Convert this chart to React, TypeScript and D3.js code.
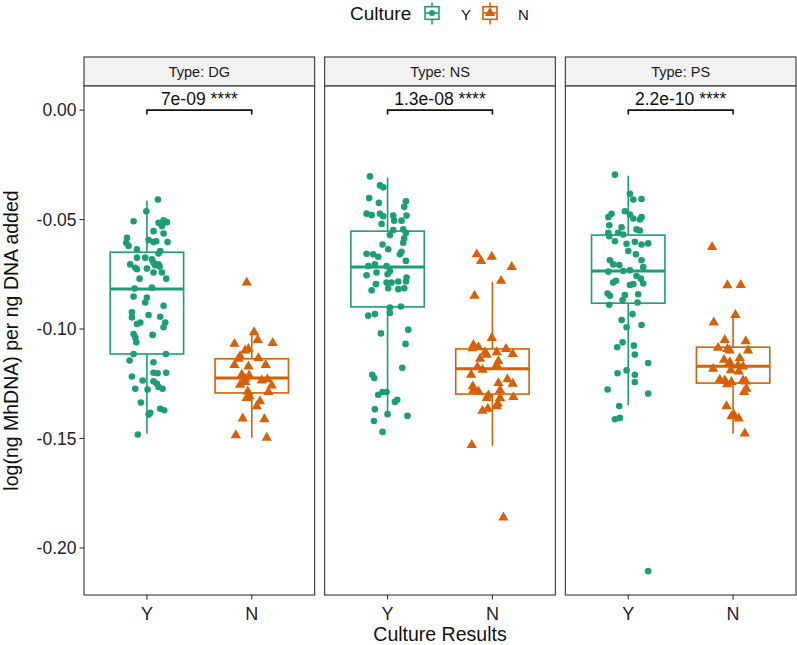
import React, { useEffect, useRef } from "react";
import * as d3 from "d3";

const types = ["DG", "NS", "PS"];
const cultures = ["Y", "N"];
const pLabels = ["7e-09 ****", "1.3e-08 ****", "2.2e-10 ****"];
const bracketValue = 0;
const yTicks = [0, -0.05, -0.1, -0.15, -0.2];
const yDomain = [-0.2215, 0.011];

// [low whisker, Q1, median, Q3, high whisker]
const dgYBox = [-0.1479, -0.1114, -0.0817, -0.0649, -0.0414];
const dgNBox = [-0.1497, -0.1292, -0.1224, -0.1136, -0.1008];
const nsYBox = [-0.1389, -0.0899, -0.0717, -0.0553, -0.0308];
const nsNBox = [-0.1533, -0.1297, -0.1182, -0.1091, -0.0785];
const psYBox = [-0.1348, -0.0882, -0.0735, -0.0571, -0.03];
const psNBox = [-0.1477, -0.1247, -0.117, -0.1083, -0.0939];

// [jitter (category units), value]
const dgY = [
  [0.105, -0.0409], [-0.006, -0.0462], [-0.127, -0.0508], [0.111, -0.0515],
  [0.159, -0.0503], [0.19, -0.0512], [0.143, -0.053], [0.063, -0.0553],
  [0.159, -0.0564], [-0.19, -0.0583], [-0.197, -0.0606], [-0.175, -0.0621],
  [0.016, -0.0594], [0.063, -0.0603], [0.089, -0.0599], [0.197, -0.0603],
  [-0.095, -0.0636], [0.127, -0.0644], [0.111, -0.0655], [-0.095, -0.0674],
  [-0.016, -0.0674], [0.048, -0.0682], [0.063, -0.0697], [-0.159, -0.0705],
  [-0.111, -0.072], [-0.095, -0.0727], [0.0, -0.0724], [0.079, -0.0709],
  [0.111, -0.0705], [0.121, -0.0715], [0.063, -0.0742], [0.143, -0.0742],
  [-0.07, -0.077], [0.184, -0.077], [-0.117, -0.0815], [0.048, -0.0811],
  [-0.127, -0.0852], [0.0, -0.0856], [-0.016, -0.0879], [0.159, -0.0894],
  [-0.143, -0.0924], [-0.143, -0.0947], [0.016, -0.0936], [0.127, -0.0944],
  [-0.095, -0.0977], [-0.063, -0.097], [0.175, -0.097], [0.159, -0.0992],
  [-0.127, -0.1023], [-0.111, -0.1038], [-0.102, -0.1061], [0.054, -0.1027],
  [-0.127, -0.1114], [0.181, -0.1114], [-0.165, -0.1144], [0.063, -0.1152],
  [-0.143, -0.1217], [-0.041, -0.1235], [0.063, -0.12], [0.102, -0.1202],
  [0.184, -0.12], [0.063, -0.1239], [0.095, -0.125], [0.111, -0.1265],
  [0.149, -0.1273], [-0.111, -0.1273], [0.006, -0.1276], [-0.057, -0.1336],
  [0.016, -0.1391], [0.032, -0.1383], [0.127, -0.1364], [0.165, -0.1371],
  [-0.086, -0.1482],
];
const dgN = [
  [-0.048, -0.0788], [0.022, -0.1015], [0.057, -0.105], [-0.165, -0.1068],
  [0.2, -0.1064], [-0.032, -0.1091], [-0.063, -0.1098], [-0.111, -0.1124],
  [-0.127, -0.1136], [0.063, -0.1133], [-0.165, -0.1164], [-0.032, -0.1171],
  [0.133, -0.1164], [-0.095, -0.1209], [-0.063, -0.1227], [-0.025, -0.1212],
  [-0.111, -0.1255], [-0.063, -0.1242], [0.095, -0.1235], [0.149, -0.123],
  [0.19, -0.1258], [0.159, -0.1288], [-0.038, -0.1285], [-0.048, -0.1315],
  [-0.025, -0.1306], [0.079, -0.133], [0.048, -0.1353], [-0.086, -0.1409],
  [0.121, -0.1412], [-0.152, -0.1485], [0.143, -0.1497],
];
const nsY = [
  [-0.168, -0.0303], [-0.073, -0.0344], [-0.041, -0.0353], [-0.175, -0.0402],
  [-0.083, -0.0424], [0.175, -0.0417], [0.159, -0.0442], [-0.2, -0.0473],
  [-0.152, -0.048], [-0.073, -0.0474], [-0.041, -0.0485], [0.054, -0.0482],
  [0.181, -0.0482], [0.063, -0.0505], [0.133, -0.0505], [-0.057, -0.052],
  [0.054, -0.0548], [0.149, -0.0545], [0.175, -0.0561], [0.022, -0.0571],
  [0.159, -0.0586], [0.149, -0.0606], [-0.048, -0.0614], [0.006, -0.0636],
  [0.133, -0.0647], [0.117, -0.0659], [-0.2, -0.0656], [-0.137, -0.0659],
  [-0.089, -0.067], [0.175, -0.0689], [-0.184, -0.0712], [-0.121, -0.0705],
  [-0.01, -0.0712], [0.022, -0.0735], [-0.2, -0.0755], [-0.105, -0.0742],
  [0.0, -0.075], [0.181, -0.0765], [0.102, -0.0783], [0.175, -0.0783],
  [-0.111, -0.0795], [-0.01, -0.0788], [0.038, -0.0788], [0.006, -0.0814],
  [-0.152, -0.0823], [0.102, -0.0818], [0.159, -0.0814], [0.022, -0.0902],
  [0.127, -0.0897], [-0.184, -0.0939], [-0.121, -0.0932], [0.022, -0.0927],
  [-0.063, -0.102], [0.197, -0.1003], [0.171, -0.1068], [0.14, -0.1177],
  [-0.146, -0.1209], [-0.127, -0.1224], [-0.089, -0.13], [-0.048, -0.1288],
  [-0.01, -0.1288], [0.07, -0.1333], [0.092, -0.1323], [-0.121, -0.1367],
  [0.0, -0.1389], [0.19, -0.1397], [-0.13, -0.142], [-0.048, -0.147],
];
const nsN = [
  [-0.149, -0.0659], [-0.108, -0.0689], [-0.006, -0.067], [0.184, -0.0717],
  [0.083, -0.078], [-0.171, -0.0848], [-0.006, -0.1041], [-0.181, -0.1073],
  [-0.19, -0.1088], [-0.133, -0.1083], [-0.07, -0.1106], [-0.054, -0.1118],
  [0.041, -0.1106], [0.13, -0.1091], [0.194, -0.1114], [-0.117, -0.1136],
  [0.057, -0.1147], [0.041, -0.1164], [-0.143, -0.1174], [-0.095, -0.1186],
  [-0.203, -0.1209], [0.057, -0.1247], [0.143, -0.123], [0.194, -0.125],
  [-0.187, -0.1262], [-0.181, -0.128], [-0.133, -0.1285], [0.073, -0.128],
  [-0.038, -0.1303], [-0.054, -0.1315], [0.073, -0.1315], [0.2, -0.1311],
  [0.051, -0.1341], [0.041, -0.1353], [-0.044, -0.1364], [-0.095, -0.1374],
  [-0.197, -0.153], [0.105, -0.1861],
];
const psY = [
  [-0.127, -0.0295], [0.016, -0.0382], [0.048, -0.0409], [0.127, -0.0406],
  [-0.032, -0.0462], [-0.159, -0.0474], [-0.19, -0.0489], [0.016, -0.0477],
  [0.048, -0.0495], [0.127, -0.0489], [0.111, -0.05], [-0.181, -0.0526],
  [-0.063, -0.0535], [0.079, -0.0545], [0.111, -0.055], [-0.19, -0.0561],
  [-0.095, -0.0561], [-0.048, -0.0568], [-0.127, -0.0599], [-0.181, -0.0576],
  [-0.016, -0.0611], [0.063, -0.0602], [0.127, -0.0614], [0.19, -0.0609],
  [0.0, -0.0644], [0.073, -0.0659], [0.127, -0.0686], [-0.175, -0.0686],
  [-0.143, -0.0705], [-0.086, -0.0708], [0.143, -0.0717], [-0.19, -0.0738],
  [-0.048, -0.0735], [0.016, -0.0732], [0.079, -0.0758], [0.121, -0.077],
  [-0.143, -0.0788], [-0.117, -0.078], [0.016, -0.0799], [0.048, -0.0795],
  [0.143, -0.0792], [-0.197, -0.0838], [-0.175, -0.0848], [-0.032, -0.0845],
  [-0.054, -0.0868], [0.095, -0.0841], [0.089, -0.0879], [-0.181, -0.0889],
  [0.041, -0.0932], [-0.063, -0.0959], [-0.016, -0.0992], [0.127, -0.0982],
  [-0.054, -0.1061], [-0.105, -0.1083], [0.054, -0.1076], [0.063, -0.1117],
  [0.19, -0.1155], [-0.102, -0.1202], [-0.016, -0.1189], [0.063, -0.1209],
  [0.063, -0.1242], [-0.197, -0.1276], [0.19, -0.1295], [-0.086, -0.1352],
  [-0.127, -0.1412], [-0.079, -0.1406], [0.19, -0.2106],
];
const psN = [
  [-0.2, -0.0626], [-0.054, -0.08], [0.073, -0.0799], [0.022, -0.0936],
  [-0.184, -0.097], [-0.079, -0.105], [0.121, -0.1056], [-0.143, -0.1086],
  [-0.054, -0.1091], [-0.032, -0.1098], [0.143, -0.1098], [-0.086, -0.1141],
  [0.063, -0.1133], [-0.032, -0.1152], [0.048, -0.1167], [-0.19, -0.1182],
  [-0.022, -0.1189], [0.054, -0.1194], [0.095, -0.1171], [-0.127, -0.1232],
  [-0.079, -0.1235], [-0.057, -0.1253], [-0.016, -0.1242], [0.095, -0.1235],
  [0.121, -0.124], [0.127, -0.1273], [0.105, -0.1288], [-0.063, -0.1353],
  [-0.016, -0.1399], [0.01, -0.1394], [0.054, -0.1409], [0.111, -0.1477],
];

const boxes = [[dgYBox, dgNBox], [nsYBox, nsNBox], [psYBox, psNBox]];
const points = [[dgY, dgN], [nsY, nsN], [psY, psN]];

const colors = ["#1B9E77", "#D95F02"];
const FONT = "'Liberation Sans', Arial, Helvetica, sans-serif";

const W = 797;
const H = 645;

const App: React.FC = () => {
  const svgRef = useRef<SVGSVGElement | null>(null);

  useEffect(() => {
    if (!svgRef.current) return;
    const svg = d3.select(svgRef.current);
    svg.selectAll("*").remove();

    const left = 84;
    const right = 796;
    const gap = 10;
    const stripTop = 57;
    const top = 86;
    const bottom = 595;
    const pw = (right - left - gap * (types.length - 1)) / types.length;

    const y = d3.scaleLinear().domain(yDomain).range([bottom, top]);
    const x = d3.scalePoint<string>().domain(cultures).range([0, pw]).padding(0.6);
    const step = x.step();
    const boxW = step * 0.7;

    const triangle = d3.symbol().type(d3.symbolTriangle).size(46);

    // y axis
    const yAxis = svg.append("g");
    yTicks.forEach((t) => {
      yAxis
        .append("line")
        .attr("x1", left - 4.5)
        .attr("x2", left)
        .attr("y1", y(t))
        .attr("y2", y(t))
        .attr("stroke", "#333")
        .attr("stroke-width", 1.1);
      yAxis
        .append("text")
        .attr("x", left - 7.5)
        .attr("y", y(t))
        .attr("dy", "0.36em")
        .attr("text-anchor", "end")
        .attr("font-family", FONT)
        .attr("font-size", 17.5)
        .attr("fill", "#222")
        .text(t === 0 ? "0.00" : d3.format(".2f")(t).replace("−", "-"));
    });

    types.forEach((type, i) => {
      const px = left + i * (pw + gap);
      const g = svg.append("g").attr("transform", `translate(${px},0)`);

      // strip
      g.append("rect")
        .attr("x", 0)
        .attr("y", stripTop)
        .attr("width", pw)
        .attr("height", top - stripTop)
        .attr("fill", "#F2F2F2")
        .attr("stroke", "#333")
        .attr("stroke-width", 1.1);
      g.append("text")
        .attr("x", pw / 2)
        .attr("y", (stripTop + top) / 2)
        .attr("dy", "0.36em")
        .attr("text-anchor", "middle")
        .attr("font-family", FONT)
        .attr("font-size", 14.5)
        .attr("fill", "#1a1a1a")
        .text(`Type: ${type}`);

      // panel background
      g.append("rect")
        .attr("x", 0)
        .attr("y", top)
        .attr("width", pw)
        .attr("height", bottom - top)
        .attr("fill", "white");

      // boxes
      cultures.forEach((c, j) => {
        const [lo, q1, med, q3, hi] = boxes[i][j];
        const cx = x(c)!;
        const bg = g.append("g").attr("stroke", colors[j]).attr("fill", "none");
        bg.append("line")
          .attr("x1", cx).attr("x2", cx)
          .attr("y1", y(hi)).attr("y2", y(q3))
          .attr("stroke-width", 1.6);
        bg.append("line")
          .attr("x1", cx).attr("x2", cx)
          .attr("y1", y(q1)).attr("y2", y(lo))
          .attr("stroke-width", 1.6);
        bg.append("rect")
          .attr("x", cx - boxW / 2)
          .attr("y", y(q3))
          .attr("width", boxW)
          .attr("height", y(q1) - y(q3))
          .attr("fill", "white")
          .attr("stroke-width", 1.6);
        bg.append("line")
          .attr("x1", cx - boxW / 2).attr("x2", cx + boxW / 2)
          .attr("y1", y(med)).attr("y2", y(med))
          .attr("stroke-width", 3);
      });

      // jittered points
      cultures.forEach((c, j) => {
        const cx = x(c)!;
        const pts = points[i][j];
        if (j === 0) {
          g.selectAll(null)
            .data(pts)
            .enter()
            .append("circle")
            .attr("cx", (d) => cx + d[0] * step)
            .attr("cy", (d) => y(d[1]))
            .attr("r", 3.3)
            .attr("fill", colors[j]);
        } else {
          g.selectAll(null)
            .data(pts)
            .enter()
            .append("path")
            .attr("d", triangle)
            .attr("transform", (d) => `translate(${cx + d[0] * step},${y(d[1])})`)
            .attr("fill", colors[j]);
        }
      });

      // comparison bracket
      const by = y(bracketValue);
      const x1 = x(cultures[0])!;
      const x2 = x(cultures[1])!;
      g.append("path")
        .attr("d", `M${x1},${by + 4.5}V${by}H${x2}V${by + 4.5}`)
        .attr("fill", "none")
        .attr("stroke", "#111")
        .attr("stroke-width", 1.6);
      g.append("text")
        .attr("x", (x1 + x2) / 2)
        .attr("y", by - 5)
        .attr("text-anchor", "middle")
        .attr("font-family", FONT)
        .attr("font-size", 17.5)
        .attr("fill", "#111")
        .text(pLabels[i]);

      // panel border
      g.append("rect")
        .attr("x", 0)
        .attr("y", top)
        .attr("width", pw)
        .attr("height", bottom - top)
        .attr("fill", "none")
        .attr("stroke", "#333")
        .attr("stroke-width", 1.1);

      // x ticks
      cultures.forEach((c) => {
        g.append("line")
          .attr("x1", x(c)!).attr("x2", x(c)!)
          .attr("y1", bottom).attr("y2", bottom + 4.5)
          .attr("stroke", "#333")
          .attr("stroke-width", 1.1);
        g.append("text")
          .attr("x", x(c)!)
          .attr("y", bottom + 25)
          .attr("text-anchor", "middle")
          .attr("font-family", FONT)
          .attr("font-size", 18)
          .attr("fill", "#222")
          .text(c);
      });
    });

    // axis titles
    svg.append("text")
      .attr("x", (left + right) / 2)
      .attr("y", 641)
      .attr("text-anchor", "middle")
      .attr("font-family", FONT)
      .attr("font-size", 19.5)
      .attr("fill", "#111")
      .text("Culture Results");
    svg.append("text")
      .attr("transform", `translate(18,${(top + bottom) / 2}) rotate(-90)`)
      .attr("text-anchor", "middle")
      .attr("font-family", FONT)
      .attr("font-size", 19.5)
      .attr("fill", "#111")
      .text("log(ng MhDNA) per ng DNA added");

    // legend
    const lg = svg.append("g");
    lg.append("text")
      .attr("x", 350)
      .attr("y", 20)
      .attr("font-family", FONT)
      .attr("font-size", 19)
      .attr("fill", "#111")
      .text("Culture");
    const keyX = [432, 490];
    const labelX = [461, 518];
    cultures.forEach((c, j) => {
      const kx = keyX[j];
      const kg = lg.append("g").attr("stroke", colors[j]).attr("fill", "none");
      kg.append("line").attr("x1", kx).attr("x2", kx).attr("y1", 2.5).attr("y2", 24.5).attr("stroke-width", 1.6);
      kg.append("rect")
        .attr("x", kx - 7).attr("y", 6.7).attr("width", 14).attr("height", 12.6)
        .attr("fill", "white").attr("stroke-width", 1.6);
      kg.append("line").attr("x1", kx - 7).attr("x2", kx + 7).attr("y1", 13).attr("y2", 13).attr("stroke-width", 1.6);
      if (j === 0) {
        lg.append("circle").attr("cx", kx).attr("cy", 13).attr("r", 3).attr("fill", colors[j]);
      } else {
        lg.append("path")
          .attr("d", triangle)
          .attr("transform", `translate(${kx},13)`)
          .attr("fill", colors[j]);
      }
      lg.append("text")
        .attr("x", labelX[j])
        .attr("y", 19.5)
        .attr("font-family", FONT)
        .attr("font-size", 15)
        .attr("fill", "#111")
        .text(c);
    });
  }, []);

  return (
    <svg
      ref={svgRef}
      width={W}
      height={H}
      style={{ position: "absolute", left: 0, top: 0, background: "white" }}
    />
  );
};

export default App;
